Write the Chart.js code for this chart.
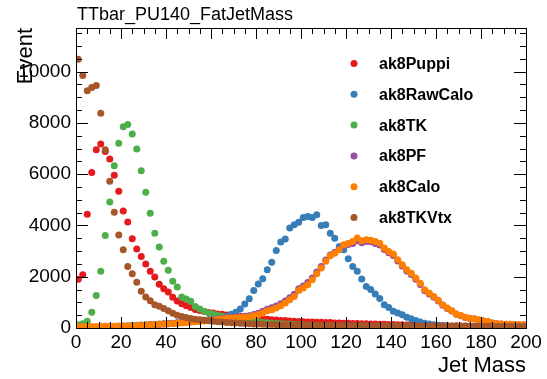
<!DOCTYPE html>
<html>
<head>
<meta charset="utf-8">
<script src="https://cdn.jsdelivr.net/npm/chart.js@4.4.0/dist/chart.umd.min.js"></script>
<style>
html, body { margin: 0; padding: 0; background: #fff; }
#wrap { width: 547px; height: 379px; }
</style>
</head>
<body>
<div id="wrap"><canvas id="c" width="547" height="379"></canvas></div>
<script>
/* ---- data (bin centres, 2 GeV bins) ---- */
var massBins = [1,3,5,7,9,11,13,15,17,19,21,23,25,27,29,31,33,35,37,39,
  41,43,45,47,49,51,53,55,57,59,61,63,65,67,69,71,73,75,77,79,
  81,83,85,87,89,91,93,95,97,99,101,103,105,107,109,111,113,115,117,119,
  121,123,125,127,129,131,133,135,137,139,141,143,145,147,149,151,153,155,157,159,
  161,163,165,167,169,171,173,175,177,179,181,183,185,187,189,191,193,195,197,199];

var puppi = [1900,2080,4440,6060,6950,7180,6880,6590,5960,5330,4560,4130,3480,3080,2790,2500,2210,1990,1710,1530,
  1400,1200,1050,950,870,800,720,680,645,605,585,550,535,505,495,465,455,425,415,385,
  372,348,338,318,308,292,288,270,268,250,248,236,238,222,224,210,214,196,198,186,
  188,176,178,166,170,158,160,148,150,140,138,128,130,118,120,110,112,102,104,96,
  94,88,90,82,84,78,79,72,73,67,68,62,63,58,59,54,55,50,51,46];

var rawCalo = [0,0,0,0,10,25,35,45,55,65,75,85,95,105,115,125,140,150,160,170,
  180,190,200,215,230,245,260,280,300,320,345,375,410,460,540,610,740,935,1140,1465,
  1715,1920,2270,2560,3020,3350,3470,3900,4030,4120,4310,4350,4310,4415,4000,4030,3700,3500,3180,3050,
  2700,2400,2210,1910,1620,1500,1330,1150,910,800,650,585,520,420,365,290,235,185,155,130,
  110,95,80,70,62,55,48,42,38,34,30,27,24,22,20,18,16,15,14,12];

var tk = [130,170,260,610,1270,2210,3610,4910,6330,7210,7850,7940,7570,6980,6130,5290,4480,3700,3160,2600,
  2250,1820,1600,1210,1130,1040,840,740,650,585,545,500,460,420,385,350,320,295,270,250,
  230,215,200,190,180,170,160,150,140,130,120,115,110,100,95,90,85,80,78,75,
  70,68,65,62,60,57,55,52,50,48,46,44,42,40,38,36,35,34,32,30,
  29,28,27,26,25,24,23,22,21,20,19,18,17,16,15,14,14,13,12,12];

var pf = [0,0,5,10,15,20,25,30,38,45,52,60,68,78,88,100,115,128,140,152,
  165,178,192,205,222,240,258,275,292,312,335,355,378,395,415,430,445,460,480,530,
  580,650,735,790,860,950,1050,1180,1320,1530,1640,1770,1950,2180,2400,2650,2850,2950,3060,3230,
  3260,3300,3400,3320,3370,3360,3300,3240,3060,2930,2830,2610,2420,2220,2090,1900,1700,1450,1330,1200,
  1050,890,760,660,535,480,405,370,350,315,275,250,192,168,152,148,142,138,128,122];

var calo = [50,55,60,60,62,65,68,70,72,75,78,82,90,100,110,120,130,140,150,160,
  170,180,190,200,215,230,245,260,275,295,315,335,355,370,390,400,410,420,430,480,
  520,585,675,715,780,870,975,1100,1230,1465,1560,1690,1880,2120,2340,2600,2820,2920,3050,3250,
  3310,3375,3510,3400,3440,3420,3375,3310,3120,2985,2885,2660,2470,2270,2140,1950,1750,1490,1365,1230,
  1080,910,780,675,545,490,415,380,360,325,280,255,195,170,155,150,145,140,130,125];

var tkVtx = [10480,9850,9250,9380,9460,8380,6950,5720,4510,3630,3050,2400,2120,1780,1430,1210,1060,910,850,760,
  670,580,500,450,410,370,340,320,300,285,265,245,230,218,205,195,185,175,168,160,
  152,146,140,135,130,127,124,121,118,116,114,112,110,108,106,105,104,102,100,99,
  98,96,95,94,92,91,90,89,88,87,86,85,84,83,82,81,80,79,78,77,
  76,75,74,73,72,71,70,69,68,67,66,65,64,63,62,61,60,59,58,57];

var seriesNames  = ['ak8Puppi', 'ak8RawCalo', 'ak8TK', 'ak8PF', 'ak8Calo', 'ak8TKVtx'];
var seriesValues = [puppi, rawCalo, tk, pf, calo, tkVtx];
var seriesColors = ['#e41a1c', '#377eb8', '#4daf4a', '#984ea3', '#ff7f00', '#a65628'];

var xTickLabels = [0, 20, 40, 60, 80, 100, 120, 140, 160, 180, 200];
var yTickLabels = [0, 2000, 4000, 6000, 8000, 10000];
var Y_MAX = 11700;

var FONT = '"Liberation Sans", Arial, Helvetica, sans-serif';

function toPoints(vals) {
    return massBins.map(function(m, i) { return { x: m, y: vals[i] }; });
}
function plainNum(v) { return String(v); }

/* ---- frame, inward ticks, titles, legend (ROOT look) ---- */
var rootFrame = {
    id: 'rootFrame',
    afterDraw: function(chart) {
        var ctx = chart.ctx, a = chart.chartArea;
        var xs = chart.scales.x, ys = chart.scales.y;
        ctx.save();
        ctx.strokeStyle = '#000';
        ctx.lineWidth = 1;
        ctx.beginPath();
        for (var v = 0; v <= 200; v += 5) {
            var px = Math.round(xs.getPixelForValue(v)) + 0.5;
            var len = (v % 20 === 0) ? 11 : 6;
            ctx.moveTo(px, a.bottom); ctx.lineTo(px, a.bottom - len);
            ctx.moveTo(px, a.top);    ctx.lineTo(px, a.top + len);
        }
        for (var w = 0; w <= Y_MAX; w += 500) {
            var py = Math.round(ys.getPixelForValue(w)) + 0.5;
            var l2 = (w % 2000 === 0) ? 12 : 6;
            ctx.moveTo(a.left, py);  ctx.lineTo(a.left + l2, py);
            ctx.moveTo(a.right, py); ctx.lineTo(a.right - l2, py);
        }
        ctx.stroke();
        ctx.strokeRect(Math.round(a.left) + 0.5, Math.round(a.top) + 0.5,
                       Math.round(a.right - a.left), Math.round(a.bottom - a.top));

        ctx.fillStyle = '#000';
        ctx.textBaseline = 'alphabetic';
        // title
        ctx.font = '18px ' + FONT;
        ctx.textAlign = 'left';
        ctx.fillText('TTbar_PU140_FatJetMass', 77, 20);
        // x title
        ctx.font = '22px ' + FONT;
        ctx.textAlign = 'right';
        ctx.fillText('Jet Mass', a.right, 372);
        // y title
        ctx.save();
        ctx.translate(32, a.top);
        ctx.rotate(-Math.PI / 2);
        ctx.textAlign = 'right';
        ctx.fillText('Event', 0, 0);
        ctx.restore();

        // legend
        ctx.font = 'bold 16px ' + FONT;
        ctx.textAlign = 'left';
        chart.data.datasets.forEach(function(ds, i) {
            var cy = 63.5 + 30.8 * i;
            ctx.fillStyle = ds.backgroundColor;
            ctx.beginPath();
            ctx.arc(354, cy, 3.5, 0, Math.PI * 2);
            ctx.fill();
            ctx.fillStyle = '#000';
            ctx.fillText(ds.label, 379, cy + 5.5);
        });
        ctx.restore();
    }
};

new Chart(document.getElementById('c'), {
    type: 'scatter',
    data: {
        datasets: seriesNames.map(function(name, i) {
            return {
                label: name,
                data: toPoints(seriesValues[i]),
                backgroundColor: seriesColors[i],
                borderColor: seriesColors[i],
                borderWidth: 0,
                pointRadius: 3.5,
                pointHoverRadius: 3.5,
                showLine: false,
                order: seriesNames.length - i
            };
        })
    },
    options: {
        responsive: false,
        animation: false,
        devicePixelRatio: 1,
        events: [],
        layout: { padding: { top: 28, right: 21, bottom: 0, left: 0 } },
        plugins: { legend: { display: false }, tooltip: { enabled: false }, title: { display: false } },
        scales: {
            x: {
                type: 'linear', min: 0, max: 200,
                grid: { display: false, drawTicks: false },
                border: { display: false },
                afterBuildTicks: function(s) { s.ticks = xTickLabels.map(function(v) { return { value: v }; }); },
                afterFit: function(s) { s.height = 51; },
                ticks: { color: '#000', font: { family: FONT, size: 19 }, padding: 3, maxRotation: 0, autoSkip: false, callback: plainNum }
            },
            y: {
                type: 'linear', min: 0, max: Y_MAX,
                grid: { display: false, drawTicks: false },
                border: { display: false },
                afterBuildTicks: function(s) { s.ticks = yTickLabels.map(function(v) { return { value: v }; }); },
                afterFit: function(s) { s.width = 76; },
                ticks: { color: '#000', font: { family: FONT, size: 19 }, padding: 5, callback: plainNum }
            }
        }
    },
    plugins: [rootFrame]
});
</script>
</body>
</html>
